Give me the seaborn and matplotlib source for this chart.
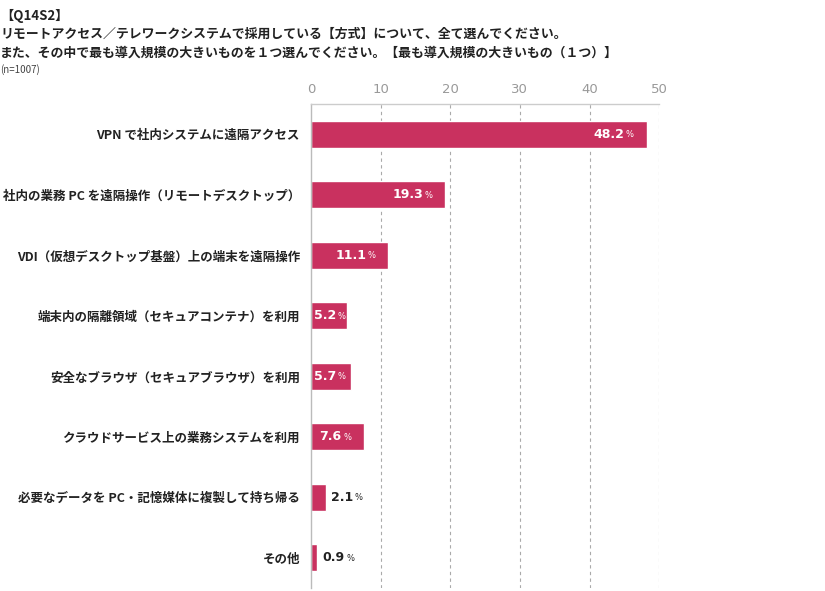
import matplotlib
matplotlib.use("Agg")
import matplotlib.pyplot as plt
import seaborn as sns
import pandas as pd

categories = [
    "VPN で社内システムに遠隔アクセス",
    "社内の業務 PC を遠隔操作（リモートデスクトップ）",
    "VDI（仮想デスクトップ基盤）上の端末を遠隔操作",
    "端末内の隔離領域（セキュアコンテナ）を利用",
    "安全なブラウザ（セキュアブラウザ）を利用",
    "クラウドサービス上の業務システムを利用",
    "必要なデータを PC・記憶媒体に複製して持ち帰る",
    "その他",
]
values = [48.2, 19.3, 11.1, 5.2, 5.7, 7.6, 2.1, 0.9]
ticks = [0, 10, 20, 30, 40, 50]

sns.set_theme(style="white")
plt.rcParams['font.family'] = ['Noto Sans CJK JP', 'DejaVu Sans']

df = pd.DataFrame({"cat": categories, "val": values})

fig = plt.figure(figsize=(8.25, 5.91), dpi=100)
ax = fig.add_axes([0.377, 0.005, 0.422, 0.819])
sns.barplot(data=df, y="cat", x="val", orient="h", color="#C9315F",
            saturation=1, width=0.44, ax=ax)

ax.set_xlim(0, 50)
ax.set_ylim(7.5, -0.5)
ax.set_xticks(ticks)
ax.xaxis.tick_top()
ax.tick_params(axis="x", length=0, colors="#999999", labelsize=9.5, pad=6)
for lbl in ax.get_xticklabels():
    lbl.set_family("DejaVu Sans")
ax.tick_params(axis="y", length=0, labelsize=9.0, pad=8, colors="#222222")
for lbl in ax.get_yticklabels():
    lbl.set_fontweight("bold")
ax.set_xlabel("")
ax.set_ylabel("")
for t in ticks[1:]:
    ax.axvline(t, color="#aaaaaa", linestyle=(0, (3, 3)), linewidth=0.8, zorder=0)
for s in ["right", "bottom"]:
    ax.spines[s].set_visible(False)
ax.spines["top"].set_color("#cccccc")
ax.spines["left"].set_color("#bbbbbb")
ax.spines["top"].set_linewidth(1)
ax.spines["left"].set_linewidth(1)

numfont = dict(family="DejaVu Sans", fontweight="bold", fontsize=9)
pctfont = dict(family="DejaVu Sans", fontsize=6)

for i, v in enumerate(values):
    if v >= 7:
        num = ax.annotate(f"{v:.1f}", xy=(v, i), xytext=(-16, 0), textcoords="offset points",
                          ha="right", va="center", color="white", **numfont)
        txtcolor = "white"
    elif v >= 4:
        num = ax.annotate(f"{v:.1f}", xy=(0, i), xytext=(2, 0), textcoords="offset points",
                          ha="left", va="center", color="white", **numfont)
        txtcolor = "white"
    else:
        num = ax.annotate(f"{v:.1f}", xy=(v, i), xytext=(4, 0), textcoords="offset points",
                          ha="left", va="center", color="#222222",
                          annotation_clip=False, **numfont)
        txtcolor = "#222222"
    ax.annotate("%", xy=(1, 0.12), xycoords=num, xytext=(1, 0),
                textcoords="offset points", ha="left", va="bottom",
                color=txtcolor, **pctfont)

fig.text(0.0, 0.985, "【Q14S2】", ha="left", va="top", fontsize=9.5,
         fontweight="bold", color="#222222")
fig.text(0.0, 0.955, "リモートアクセス／テレワークシステムで採用している【方式】について、全て選んでください。",
         ha="left", va="top", fontsize=9.3, fontweight="bold", color="#222222")
fig.text(0.0, 0.922, "また、その中で最も導入規模の大きいものを１つ選んでください。【最も導入規模の大きいもの（１つ）】",
         ha="left", va="top", fontsize=9.3, fontweight="bold", color="#222222")
fig.text(0.0, 0.892, "(n=1007)", ha="left", va="top", fontsize=7, color="#444444")

fig.savefig("out.png", dpi=100)
